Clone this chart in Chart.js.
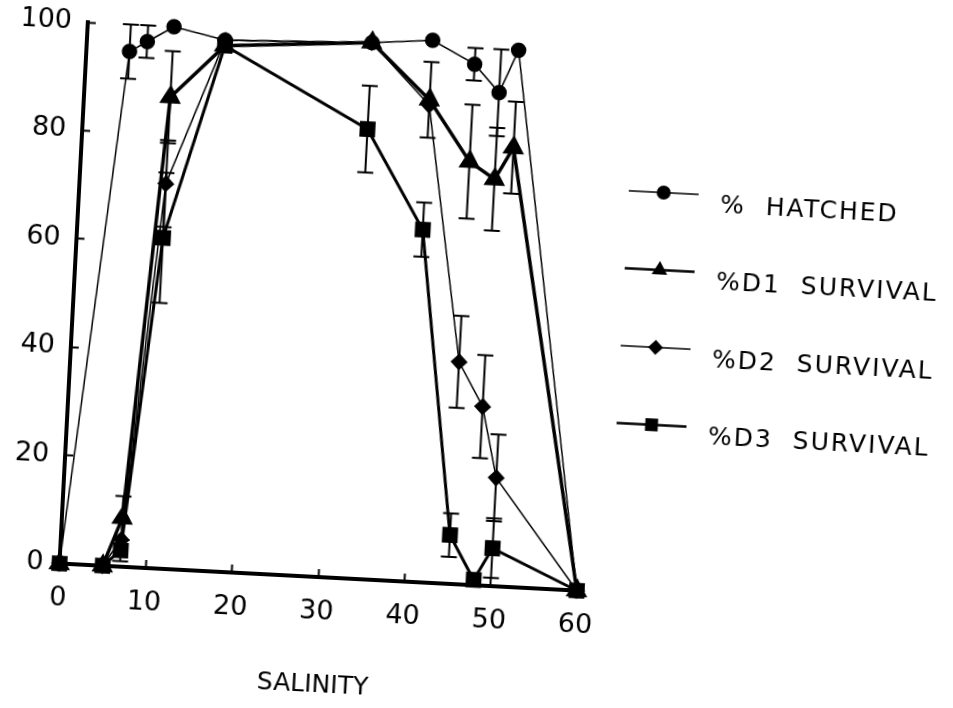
<!DOCTYPE html>
<html>
<head>
<meta charset="utf-8">
<title>Salinity</title>
<script src="https://cdn.jsdelivr.net/npm/chart.js@4.4.0/dist/chart.umd.min.js"></script>
<style>
  html, body { margin: 0; padding: 0; background: #fff; overflow: hidden; }
  /* the scanned original sits about 3 degrees off square */
  #wrap { width: 953px; height: 708px; transform: rotate(3deg); transform-origin: 476px 354px; }
</style>
</head>
<body>
<div id="wrap"><canvas id="salinityChart" width="953" height="708"></canvas></div>
<script>
// salinity levels tested
const salinity = [0, 5, 7, 10, 16, 33, 40, 45, 48, 50, 60];

// series values (%)
const hatched = [0, 95, 97, 100, 98, 99, 100, 96, 91, 99, 0];
const d1 = [0, 0, 9, 87, 97, 99, 89, 78, 75, 81, 0];
const d2 = [0, 0, 5, 71, 98, 99, 88, 41, 33, 20, 0];
const d3 = [0, 0, 3, 61, 97, 83, 65, 9, 1, 7, 0];

// +/- error bars (%)
const hatchedErr = [0, 5, 3, 0, 0, 0, 0, 3, 8, 0, 0];
const d1Err = [0, 0, 4, 8.5, 0, 0, 7, 10.5, 9.5, 8.5, 0];
const d2Err = [0, 0, 0, 8, 0, 0, 0, 8.5, 9.5, 8, 0];
const d3Err = [0, 0, 2, 12, 0, 8, 5, 4, 0, 5.5, 0];

const xTicks = [0, 10, 20, 30, 40, 50, 60];
const yTicks = [0, 20, 40, 60, 80, 100];

const toPoints = vals => salinity.map((s, i) => ({ x: s, y: vals[i] }));

const FONT = 'DejaVu Sans';

// vertical error bars with caps
const errorBars = {
  id: 'errorBars',
  afterDatasetsDraw(chart) {
    const ctx = chart.ctx;
    const xs = chart.scales.x, ys = chart.scales.y;
    chart.data.datasets.forEach(ds => {
      if (!ds.errors) return;
      ctx.save();
      ctx.strokeStyle = '#000';
      ctx.lineWidth = 2;
      salinity.forEach((s, i) => {
        const e = ds.errors[i];
        if (!e) return;
        const v = ds.data[i].y;
        const px = xs.getPixelForValue(s);
        const top = ys.getPixelForValue(v + e);
        const bot = ys.getPixelForValue(v - e);
        ctx.beginPath();
        ctx.moveTo(px, top); ctx.lineTo(px, bot);
        ctx.moveTo(px - 8, top); ctx.lineTo(px + 8, top);
        ctx.moveTo(px - 8, bot); ctx.lineTo(px + 8, bot);
        ctx.stroke();
      });
      ctx.restore();
    });
  }
};

function drawMarker(ctx, style, r, x, y) {
  ctx.beginPath();
  if (style === 'circle') {
    ctx.arc(x, y, r, 0, Math.PI * 2);
  } else if (style === 'triangle') {
    ctx.moveTo(x, y - r);
    ctx.lineTo(x + r * 0.866, y + r * 0.5);
    ctx.lineTo(x - r * 0.866, y + r * 0.5);
    ctx.closePath();
  } else if (style === 'rectRot') {
    ctx.moveTo(x, y - r); ctx.lineTo(x + r, y); ctx.lineTo(x, y + r); ctx.lineTo(x - r, y);
    ctx.closePath();
  } else {
    const h = r * Math.SQRT1_2;
    ctx.rect(x - h, y - h, 2 * h, 2 * h);
  }
  ctx.fill();
}

// legend on the right: short line, marker in the middle, label
const sideLegend = {
  id: 'sideLegend',
  afterDraw(chart) {
    const ctx = chart.ctx;
    ctx.save();
    chart.data.datasets.forEach((ds, i) => {
      const y = 183 + i * 77.5;
      ctx.strokeStyle = '#000';
      ctx.fillStyle = '#000';
      ctx.lineWidth = Math.min(ds.borderWidth, 2.5);
      ctx.beginPath();
      ctx.moveTo(620, y); ctx.lineTo(690, y);
      ctx.stroke();
      drawMarker(ctx, ds.pointStyle, ds.pointRadius, 655, y);
      ctx.font = '25px "' + FONT + '"';
      ctx.letterSpacing = '2px';
      ctx.wordSpacing = '10px';
      ctx.textBaseline = 'middle';
      ctx.textAlign = 'left';
      ctx.fillText(ds.label, 712, y + 10);
    });
    ctx.restore();
  }
};

const ctx = document.getElementById('salinityChart').getContext('2d');
new Chart(ctx, {
  type: 'line',
  data: {
    datasets: [
      { label: '% HATCHED', data: toPoints(hatched), errors: hatchedErr,
        borderColor: '#000', backgroundColor: '#000', borderWidth: 1.5,
        pointStyle: 'circle', pointRadius: 7, clip: false },
      { label: '%D1 SURVIVAL', data: toPoints(d1), errors: d1Err,
        borderColor: '#000', backgroundColor: '#000', borderWidth: 3.5,
        pointStyle: 'triangle', pointRadius: 9, clip: false },
      { label: '%D2 SURVIVAL', data: toPoints(d2), errors: d2Err,
        borderColor: '#000', backgroundColor: '#000', borderWidth: 1.5,
        pointStyle: 'rectRot', pointRadius: 7.5, clip: false },
      { label: '%D3 SURVIVAL', data: toPoints(d3), errors: d3Err,
        borderColor: '#000', backgroundColor: '#000', borderWidth: 3,
        pointStyle: 'rect', pointRadius: 9, clip: false }
    ]
  },
  options: {
    responsive: false,
    animation: false,
    events: [],
    layout: { padding: { left: 7, top: 43, right: 364, bottom: 0 } },
    elements: { line: { tension: 0 }, point: { borderWidth: 0 } },
    plugins: { legend: { display: false }, tooltip: { enabled: false } },
    scales: {
      x: {
        type: 'linear',
        min: 0, max: 60,
        afterBuildTicks: s => { s.ticks = xTicks.map(v => ({ value: v })); },
        afterFit: s => { s.height = 123; },
        border: { color: '#000', width: 4 },
        grid: { drawOnChartArea: false, tickLength: -8, tickColor: '#000', tickWidth: 2 },
        ticks: { color: '#000', padding: 27, font: { family: FONT, size: 27 } },
        title: { display: true, text: 'SALINITY', color: '#000',
                 padding: { top: 0, bottom: 0 }, font: { family: FONT, size: 25 } }
      },
      y: {
        min: 0, max: 100,
        afterBuildTicks: s => { s.ticks = yTicks.map(v => ({ value: v })); },
        afterFit: s => { s.width = 64; },
        border: { color: '#000', width: 4 },
        grid: { drawOnChartArea: false, tickLength: -8, tickColor: '#000', tickWidth: 2 },
        ticks: { color: '#000', padding: 24, font: { family: FONT, size: 27 } }
      }
    }
  },
  plugins: [errorBars, sideLegend]
});
</script>
</body>
</html>
